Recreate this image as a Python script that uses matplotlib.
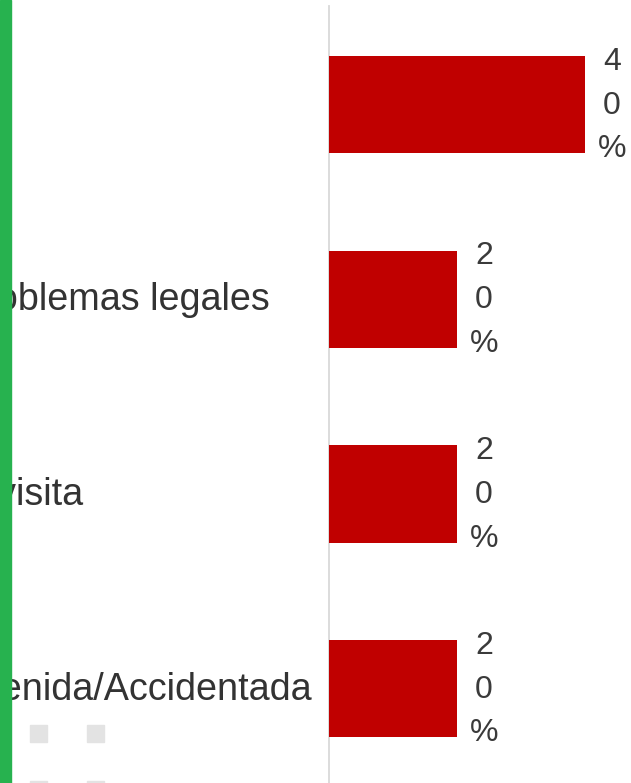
import matplotlib
matplotlib.use("Agg")
import matplotlib.pyplot as plt
import matplotlib.transforms as mtransforms
from matplotlib.patches import Rectangle

# Data
categories = ["", "Problemas legales", "Sin visita", "Detenida/Accidentada"]
values = [40, 20, 20, 20]  # percent

# Layout (pixels)
W, H = 631, 783
label_right_px = [0, 270, 83, 313]
bar_color = "#C00000"
text_color = "#3a3a3a"

plt.rcParams["font.family"] = ["Liberation Sans", "DejaVu Sans"]

fig = plt.figure(figsize=(W / 100, H / 100), dpi=100)

ax_left, ax_top = 329, 6
ax = fig.add_axes([ax_left / W, 0, (W - ax_left) / W, (H - ax_top) / H])

pitch = 194.67
first_center = 104.5
px_per_pct = 6.4
ax.set_xlim(0, (W - ax_left) / px_per_pct)
ax.set_ylim(3 + (H - (first_center + 3 * pitch)) / pitch,
            -(first_center - ax_top) / pitch)

ypos = list(range(len(categories)))
ax.barh(ypos, values, height=0.5, color=bar_color, zorder=3)

for s in ["top", "right", "bottom"]:
    ax.spines[s].set_visible(False)
ax.spines["left"].set_color("#d9d9d9")
ax.spines["left"].set_linewidth(1.3)
ax.set_xticks([])
ax.set_yticks([])

# Value labels, one character per line
for y, v in zip(ypos, values):
    ax.annotate("\n".join(f"{v}%"), xy=(v, y), xytext=(27, -1),
                textcoords="offset pixels", ha="center", va="center",
                fontsize=23, color=text_color, linespacing=1.6)

# Category labels
for y, name, xr in zip(ypos, categories, label_right_px):
    if not name:
        continue
    trans = mtransforms.blended_transform_factory(fig.transFigure, ax.transData)
    trans = mtransforms.offset_copy(trans, fig=fig, x=0, y=-11, units="dots")
    fig.text(xr / W, y, name, transform=trans, ha="right", va="baseline",
             fontsize=27.2, color="#333333")

# Green strip on the left edge
fig.patches.append(Rectangle((0, 0), 11 / W, 1, transform=fig.transFigure,
                             color="#27B24F", zorder=10))

# Grey legend squares
for (sx, sy) in [(30, 725), (87, 725), (30, 781), (87, 781)]:
    fig.patches.append(Rectangle((sx / W, 1 - (sy + 17) / H), 17 / W, 17 / H,
                                 transform=fig.transFigure, color="#e3e3e3"))

fig.savefig("out.png", dpi=100)
